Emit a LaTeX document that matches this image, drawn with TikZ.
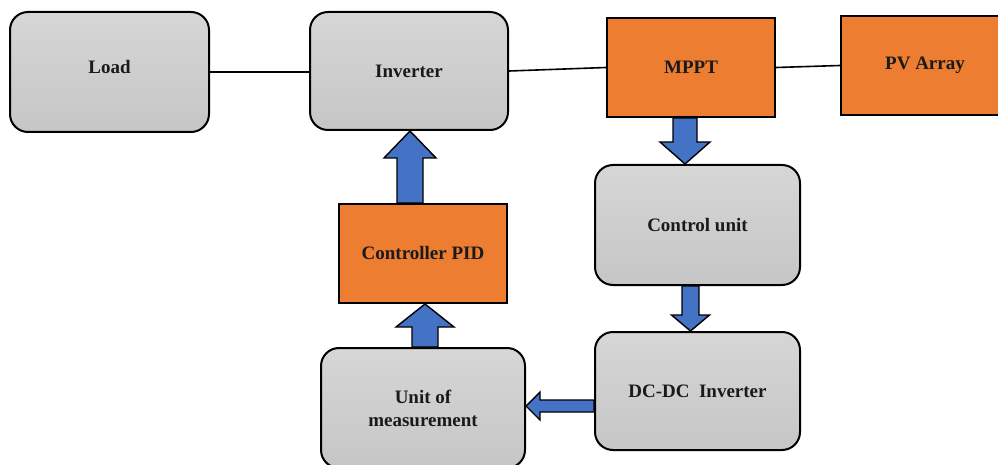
\documentclass[tikz,border=0pt]{standalone}
\usepackage{fontspec}
\newfontfamily\boxfont{LiberationSerif-Bold.ttf}
\usetikzlibrary{calc}
\definecolor{boxtop}{HTML}{D6D6D6}
\definecolor{boxbot}{HTML}{C6C6C6}
\definecolor{orangefill}{HTML}{ED7D31}
\definecolor{bluefill}{HTML}{4472C4}
\definecolor{txt}{HTML}{1A1A1A}
\tikzset{
  graybox/.style={draw=black, line width=2pt, rounded corners=18pt, top color=boxtop, bottom color=boxbot,
    align=center, text=txt, font=\boxfont\fontsize{19}{23}\selectfont, inner sep=0pt},
  orangebox/.style={draw=black, line width=2pt, fill=orangefill,
    align=center, text=txt, font=\boxfont\fontsize{19}{23}\selectfont, inner sep=0pt},
  wire/.style={draw=black, line width=1.6pt},
  barrow/.style={draw=black, line width=1.4pt, fill=bluefill, line join=miter}
}
\newcommand\blockarr[5]{%
  \coordinate (ba-h) at ($(#2)!#5!(#1)$);
  \draw[barrow] ($(#1)!#3!90:(#2)$) -- ($(ba-h)!#3!90:(#2)$) -- ($(ba-h)!#4!90:(#2)$) -- (#2)
    -- ($(ba-h)!#4!-90:(#2)$) -- ($(ba-h)!#3!-90:(#2)$) -- ($(#1)!#3!-90:(#2)$) -- cycle;}
\begin{document}
\begin{tikzpicture}[x=1pt, y=-1pt]
\useasboundingbox (0,0) rectangle (998,465);
\begin{scope}
\clip (0,0) rectangle (998,465);
\node[graybox, minimum width=199pt, minimum height=120pt] (load) at (109.5,72) {\raisebox{10pt}{Load}};
\node[graybox, minimum width=198pt, minimum height=118pt] (inverter) at (409,71) {Inverter};
\node[orangebox, minimum width=168pt, minimum height=99pt] (mppt) at (691,67.5) {MPPT};
\node[orangebox, minimum width=168pt, minimum height=99pt] (pv) at (925,65.5) {PV Array};
\node[graybox, minimum width=205pt, minimum height=120pt] (ctrl) at (697.5,225) {Control unit};
\node[orangebox, minimum width=168pt, minimum height=99pt] (pid) at (423,253.5) {Controller PID};
\node[graybox, minimum width=205pt, minimum height=118pt] (dcdc) at (697.5,391) {DC-DC\ \ Inverter};
\node[graybox, minimum width=204pt, minimum height=120pt] (meas) at (423,408) {Unit of\\measurement};

\draw[wire] (load.east) -- (load.east -| inverter.west);
\draw[wire] (inverter.east) -- (mppt.west);
\draw[wire] (mppt.east) -- (pv.west);

% pid -> inverter
\coordinate (a1e) at ($(inverter.south)+(1,0)$);
\coordinate (a1s) at (pid.north -| a1e);
\blockarr{a1s}{a1e}{13pt}{26pt}{27pt}
% mppt -> control unit
\coordinate (a2s) at ($(mppt.south)+(-6,0)$);
\coordinate (a2e) at (ctrl.north -| a2s);
\blockarr{a2s}{a2e}{12pt}{25pt}{22pt}
% control unit -> dcdc
\coordinate (a3s) at ($(ctrl.south)+(-7,0)$);
\coordinate (a3e) at (dcdc.north -| a3s);
\blockarr{a3s}{a3e}{8.5pt}{19pt}{16pt}
% dcdc -> measurement
\coordinate (a4s) at ($(dcdc.west)+(0,15)$);
\coordinate (a4e) at (meas.east |- a4s);
\blockarr{a4s}{a4e}{6pt}{14pt}{14pt}
% measurement -> pid
\coordinate (a5s) at ($(meas.north)+(2,0)$);
\coordinate (a5e) at (pid.south -| a5s);
\blockarr{a5s}{a5e}{13pt}{29pt}{23pt}
\end{scope}
\end{tikzpicture}
\end{document}
